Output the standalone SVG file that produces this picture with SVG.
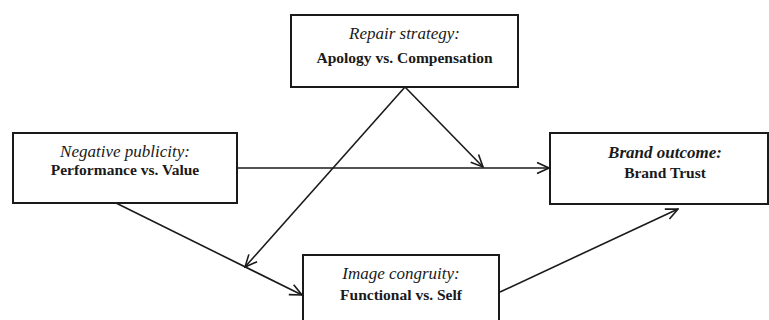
<svg xmlns="http://www.w3.org/2000/svg" width="769" height="320" viewBox="0 0 769 320">
<defs>
<marker id="arr" viewBox="0 0 14 14" refX="13" refY="7" markerWidth="14" markerHeight="14" markerUnits="userSpaceOnUse" orient="auto">
<path d="M1,1.5 L13,7 L1,12.5" fill="none" stroke="#1a1a1a" stroke-width="1.6"/>
</marker>
<style>
.box{fill:#fff;stroke:#1a1a1a;stroke-width:2}
.it{font-family:"Liberation Serif",serif;font-style:italic;font-size:17px;fill:#1a1a1a;text-anchor:middle}
.bd{font-family:"Liberation Serif",serif;font-weight:bold;font-size:15.5px;fill:#1a1a1a;text-anchor:middle}
.ln{fill:none;stroke:#1a1a1a;stroke-width:1.6;marker-end:url(#arr)}
</style>
</defs>
<rect width="769" height="320" fill="#fff"/>
<g id="connectors">
<line class="ln" x1="237" y1="168" x2="549" y2="168"/>
<line class="ln" x1="405" y1="87" x2="483" y2="167"/>
<line class="ln" x1="405" y1="87" x2="245" y2="267"/>
<line class="ln" x1="116" y1="203" x2="302" y2="295"/>
<line class="ln" x1="500" y1="292" x2="678" y2="209"/>
</g>
<g id="repair">
<rect class="box" x="291" y="15" width="227" height="72"/>
<text class="it" x="404.5" y="39">Repair strategy:</text>
<text class="bd" x="404.5" y="63">Apology vs. Compensation</text>
</g>
<g id="publicity">
<rect class="box" x="13" y="133" width="224" height="70"/>
<text class="it" x="125" y="157">Negative publicity:</text>
<text class="bd" x="125" y="175">Performance vs. Value</text>
</g>
<g id="outcome">
<rect class="box" x="550" y="133" width="218" height="71"/>
<text class="it" x="665" y="158" font-weight="bold">Brand outcome:</text>
<text class="bd" x="665" y="178">Brand Trust</text>
</g>
<g id="congruity">
<rect class="box" x="303" y="255" width="196" height="75"/>
<text class="it" x="401" y="279">Image congruity:</text>
<text class="bd" x="401" y="300">Functional vs. Self</text>
</g>
</svg>
